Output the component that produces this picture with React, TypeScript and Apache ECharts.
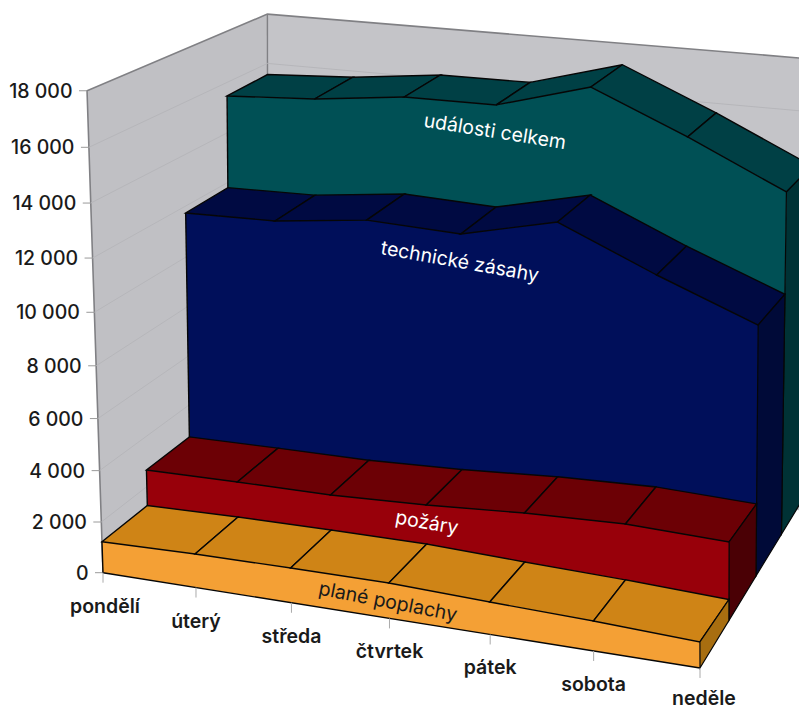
import React, { useEffect, useRef } from "react";
import * as echarts from "echarts";

const days = ["pondělí", "úterý", "středa", "čtvrtek", "pátek", "sobota", "neděle"];
const yTicks = [0, 2000, 4000, 6000, 8000, 10000, 12000, 14000, 16000, 18000];
const tickLabels = ["0", "2 000", "4 000", "6 000", "8 000", "10 000", "12 000", "14 000", "16 000", "18 000"];

const planePoplachy = [1226, 1311, 1345, 1356, 1228, 1119, 962];
const pozary = [2657, 2704, 2725, 2874, 3110, 3244, 3126];
const technickeZasahy = [11612, 11683, 12100, 11966, 12797, 11248, 9838];
const udalostiCelkem = [15234, 15434, 15829, 15850, 16834, 15320, 13650];

const FONT = "Inter, Lato, 'Noto Sans', sans-serif";

// camera of the 3D view: day X (0..6), value V (in 2000s), depth Z (0..1)
const project = (X: number, V: number, Z: number): [number, number] => {
  const w = 1 - 0.0129 * X - 0.00662 * V + 0.1268 * Z;
  return [
    (103 + 90.47 * X - 2.35 * V + 199 * Z + 0.5 * V * Z - 0.41 * X * V) / w,
    (572.7 + 7.26 * X - 54.15 * V - 80 * Z) / w,
  ];
};
const floorLift = (Z: number) => 0.33 * Z;
const wallBack = 0.98;

const world = (params: any, api: any, day: number, value: number): [number, number] => {
  const c = api.coord([day, value]);
  const cs = params.coordSys;
  return [((c[0] - cs.x) / cs.width) * 6, ((cs.y + cs.height - c[1]) / cs.height) * 9];
};

const EDGE = "#060606";

const areaSeries = (
  name: string,
  values: number[],
  zFront: number,
  zBack: number,
  front: string,
  top: string,
  side: string
) => ({
  type: "custom",
  name,
  coordinateSystem: "cartesian2d",
  clip: false,
  silent: true,
  data: values.map((v, i) => [i, v]),
  encode: { x: 0, y: 1 },
  renderItem: (params: any, api: any) => {
    const i = params.dataIndexInside;
    const [X, V] = world(params, api, api.value(0), api.value(1));
    const children: any[] = [];
    const baseF = floorLift(zFront);
    const baseB = floorLift(zBack);
    if (i === 0) {
      const n = values.length;
      const tops: [number, number][] = [];
      for (let k = 0; k < n; k++) {
        const [Xk, Vk] = world(params, api, api.value(0, k), api.value(1, k));
        tops.push(project(Xk, Vk, zFront));
      }
      const [Xl] = world(params, api, api.value(0, n - 1), 0);
      const b0 = project(X, baseF, zFront);
      const b1 = project(Xl, baseF, zFront);
      children.push({
        type: "polygon",
        shape: { points: [...tops, b1, b0] },
        style: { fill: front },
      });
      children.push({
        type: "line",
        shape: { x1: b0[0], y1: b0[1], x2: b1[0], y2: b1[1] },
        style: { stroke: EDGE, lineWidth: 1.4 },
      });
      children.push({
        type: "line",
        shape: { x1: tops[0][0], y1: tops[0][1], x2: b0[0], y2: b0[1] },
        style: { stroke: EDGE, lineWidth: 1.4 },
      });
    }
    if (i < values.length - 1) {
      const [X2, V2] = world(params, api, api.value(0, i + 1), api.value(1, i + 1));
      children.push({
        type: "polygon",
        shape: {
          points: [project(X, V, zFront), project(X2, V2, zFront), project(X2, V2, zBack), project(X, V, zBack)],
        },
        style: { fill: top, stroke: EDGE, lineWidth: 1.4 },
      });
    } else {
      children.push({
        type: "polygon",
        shape: {
          points: [
            project(X, V, zFront),
            project(X, V, zBack),
            project(X, baseB, zBack),
            project(X, baseF, zFront),
          ],
        },
        style: { fill: side, stroke: EDGE, lineWidth: 1.2 },
      });
    }
    return { type: "group", children };
  },
});

const wallSeries = {
  type: "custom",
  name: "walls",
  coordinateSystem: "cartesian2d",
  clip: false,
  silent: true,
  data: yTicks.map((v) => [0, v]),
  encode: { x: 0, y: 1 },
  renderItem: (params: any, api: any) => {
    const i = params.dataIndexInside;
    const [, V] = world(params, api, 0, api.value(1));
    const children: any[] = [];
    const vb = V * wallBack;
    if (i === 0) {
      const tl = project(0, 9, 0);
      const tb = project(0, 9 * wallBack, 1);
      const tr = project(6, 9 * wallBack, 1);
      const bl = project(0, 0, 0);
      const bb = project(0, 0, 1);
      const br = project(6, 0, 1);
      children.push({ type: "polygon", shape: { points: [tb, tr, br, bb] }, style: { fill: "#c4c4c8" } });
      children.push({ type: "polygon", shape: { points: [tl, tb, bb, bl] }, style: { fill: "#c0c0c4" } });
      children.push({
        type: "polyline",
        shape: { points: [bl, tl, tb, tr] },
        style: { stroke: "#808084", lineWidth: 1.6, fill: "none" },
      });
      children.push({
        type: "line",
        shape: { x1: tb[0], y1: tb[1], x2: bb[0], y2: bb[1] },
        style: { stroke: "#808084", lineWidth: 1.4 },
      });
    } else if (i < yTicks.length - 1) {
      children.push({
        type: "polyline",
        shape: { points: [project(0, V, 0), project(0, vb, 1), project(6, vb, 1)] },
        style: { stroke: "#b6b6ba", lineWidth: 1, fill: "none" },
      });
    }
    const p = project(0, V, 0);
    children.push({
      type: "line",
      shape: { x1: p[0] - 8, y1: p[1], x2: p[0], y2: p[1] },
      style: { stroke: "#9a9a9a", lineWidth: 1 },
    });
    children.push({
      type: "text",
      x: p[0] - 14.5,
      y: p[1],
      style: {
        text: tickLabels[i],
        fill: "#1a1a1a",
        font: `500 19.5px ${FONT}`,
        align: "right",
        verticalAlign: "middle",
      },
    });
    return { type: "group", children };
  },
};

const daySeries = {
  type: "custom",
  name: "days",
  coordinateSystem: "cartesian2d",
  clip: false,
  silent: true,
  data: days.map((_, i) => [i, 0]),
  encode: { x: 0, y: 1 },
  renderItem: (params: any, api: any) => {
    const i = params.dataIndexInside;
    const [X, V] = world(params, api, api.value(0), api.value(1));
    const p = project(X, V, 0);
    return {
      type: "group",
      children: [
        {
          type: "line",
          shape: { x1: p[0], y1: p[1], x2: p[0], y2: p[1] + 10 },
          style: { stroke: "#aaaaaa", lineWidth: 1 },
        },
        {
          type: "text",
          x: p[0] + (i === 6 ? 4 : i === 0 ? 2 : 0),
          y: p[1] + (i === 6 ? 30 : 33),
          style: {
            text: days[i],
            fill: "#1a1a1a",
            font: `600 19.5px ${FONT}`,
            align: "center",
            verticalAlign: "middle",
          },
        },
      ],
    };
  },
};

const inChart = (text: string, x: number, y: number, rot: number, fill: string) => ({
  type: "text",
  x,
  y,
  rotation: -rot * (Math.PI / 180),
  z: 100,
  style: { text, fill, font: `400 19.5px ${FONT}`, align: "center", verticalAlign: "middle" },
});

export default function App() {
  const ref = useRef<HTMLDivElement>(null);
  useEffect(() => {
    const chart = echarts.init(ref.current!, undefined, { renderer: "svg" });
    chart.setOption({
      animation: false,
      backgroundColor: "#ffffff",
      grid: { left: 0, right: 0, top: 0, bottom: 0 },
      xAxis: { type: "value", min: 0, max: 6, show: false },
      yAxis: { type: "value", min: 0, max: 18000, interval: 2000, show: false },
      series: [
        wallSeries,
        areaSeries("události celkem", udalostiCelkem, 0.75, 1, "#005055", "#004045", "#003235"),
        areaSeries("technické zásahy", technickeZasahy, 0.5, 0.75, "#000f5a", "#000a42", "#000a38"),
        areaSeries("požáry", pozary, 0.25, 0.5, "#98000a", "#6c0005", "#4a0005"),
        areaSeries("plané poplachy", planePoplachy, 0, 0.25, "#f4a035", "#cf8416", "#a86e10"),
        daySeries,
      ],
      graphic: [
        inChart("události celkem", 495, 131, 9, "#ffffff"),
        inChart("technické zásahy", 460, 261, 10, "#ffffff"),
        inChart("požáry", 427, 522, 10, "#ffffff"),
        inChart("plané poplachy", 388, 601, 11, "#1a1a1a"),
      ],
    });
    return () => chart.dispose();
  }, []);
  return (
    <div
      ref={ref}
      style={{ position: "fixed", left: 0, top: 0, width: 799, height: 711, overflow: "hidden" }}
    />
  );
}
